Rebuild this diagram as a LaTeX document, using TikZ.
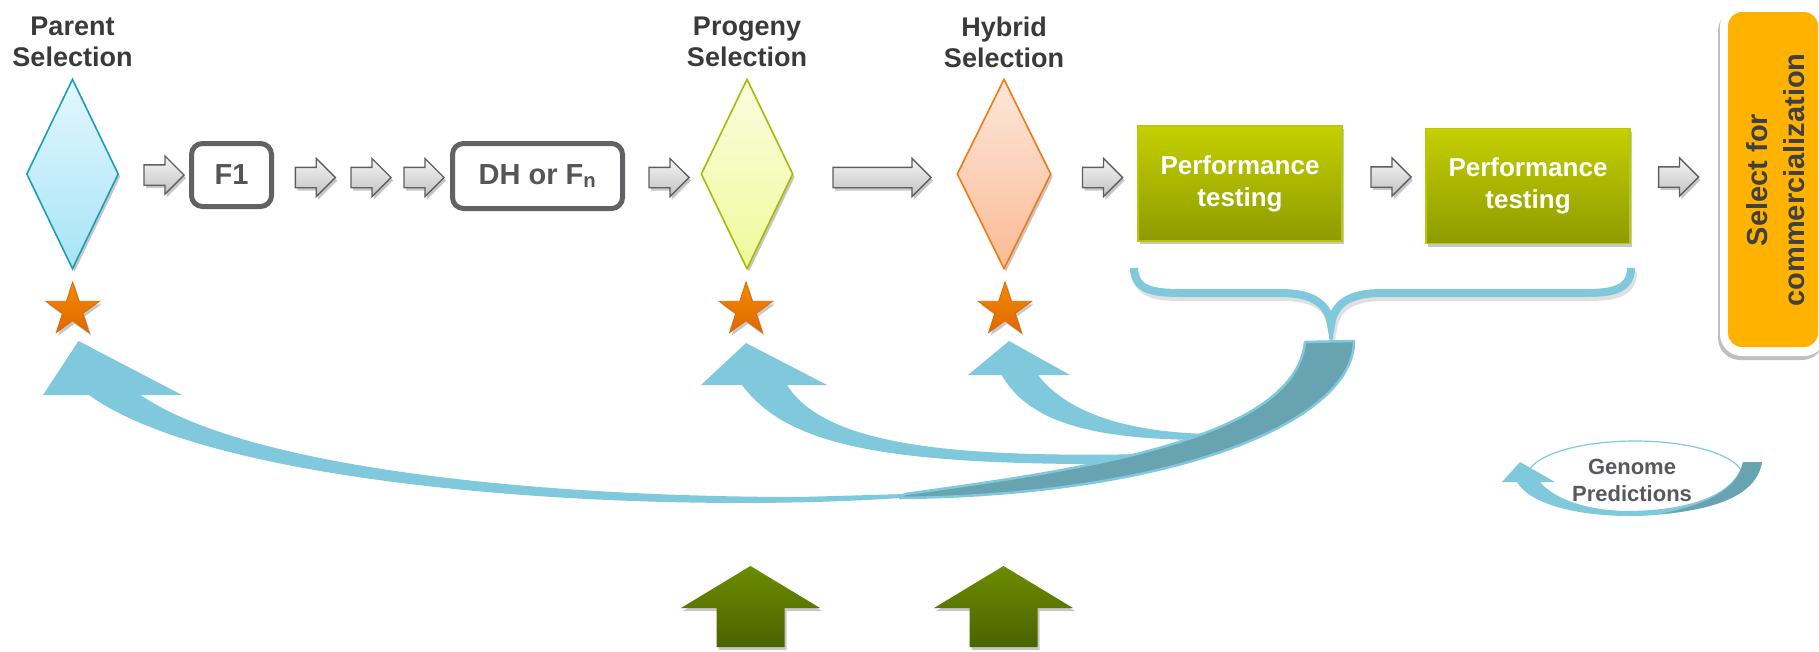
\documentclass[tikz,border=0pt]{standalone}
\usepackage{fontspec}
\setmainfont{Liberation Sans}
\usetikzlibrary{shapes.geometric,shapes.arrows,shadows}
\definecolor{lblue}{HTML}{80C8DC}
\definecolor{dblue}{HTML}{68A3B2}
\definecolor{lbltxt}{HTML}{3A3A3C}
\definecolor{boxgray}{HTML}{626266}
\definecolor{boxtxt}{HTML}{555558}
\definecolor{arrgray}{HTML}{5E5F62}
\definecolor{perftop}{HTML}{C4D000}
\definecolor{perfbot}{HTML}{8E9B00}
\definecolor{perfedge}{HTML}{B8C70A}
\definecolor{selorange}{HTML}{FFB300}
\definecolor{seltxt}{HTML}{404042}
\definecolor{gptxt}{HTML}{58595C}
\definecolor{greentop}{HTML}{6C8C00}
\definecolor{greenbot}{HTML}{4B6300}
\definecolor{startop}{HTML}{F28A00}
\definecolor{starbot}{HTML}{E06800}
\definecolor{ptop}{HTML}{E3F7FD}
\definecolor{pbot}{HTML}{A6E4F7}
\definecolor{pedge}{HTML}{1F9DB8}
\definecolor{gtop}{HTML}{FAFDDF}
\definecolor{gbot}{HTML}{EEFA9A}
\definecolor{gedge}{HTML}{A8BA06}
\definecolor{htop}{HTML}{FDE6DA}
\definecolor{hbot}{HTML}{FBBB95}
\definecolor{hedge}{HTML}{EE7A12}
\begin{document}
\begin{tikzpicture}[x=1pt,y=-1pt,
  shd/.style={drop shadow={shadow xshift=2pt,shadow yshift=-3pt,opacity=0.22,fill=black}},
  lbl/.style={font=\fontsize{27}{31}\selectfont\bfseries,text=lbltxt,align=center,inner sep=0pt},
  dia/.style={diamond,minimum width=92pt,minimum height=190pt,inner sep=0pt,line width=1.6pt,shd},
  gbox/.style={draw=boxgray,line width=5pt,rounded corners=11pt,inner sep=0pt,
    font=\fontsize{29}{33}\selectfont\bfseries,text=boxtxt},
  garrow/.style={single arrow,single arrow head extend=9pt,minimum height=40pt,
    inner xsep=0pt,inner ysep=9.5pt,draw=arrgray,line width=1.3pt,
    top color=white!96!black,bottom color=white!76!black,shd},
  perf/.style={rectangle,minimum width=204pt,minimum height=115pt,draw=perfedge,line width=1.5pt,
    top color=perftop,bottom color=perfbot,text=white,align=center,
    font=\fontsize{26}{32}\selectfont\bfseries,shd},
  starn/.style={star,star points=5,star point ratio=2.6,minimum size=56pt,inner sep=0pt,
    draw=starbot,line width=0.8pt,top color=startop,bottom color=starbot,shd},
  ribbon/.style={fill=lblue},
  greenarrow/.style={top color=greentop,bottom color=greenbot,shd}
]
\useasboundingbox (0,0) rectangle (1819,651);

% labels
\node[lbl] (lparent) at (72.5,42) {Parent\\Selection};
\node[lbl] (lprogeny) at (747,42) {Progeny\\Selection};
\node[lbl] (lhybrid) at (1004,42) {Hybrid\\Selection};

% diamonds
\node[dia,draw=pedge,top color=ptop,bottom color=pbot] (parent) at (72.5,174) {};
\node[dia,draw=gedge,top color=gtop,bottom color=gbot] (progeny) at (747,174) {};
\node[dia,draw=hedge,top color=htop,bottom color=hbot,minimum width=94pt] (hybrid) at (1004,174) {};

% boxes
\node[gbox,minimum width=80pt,minimum height=63pt] (f1) at (231.5,175) {F1};
\node[gbox,minimum width=170pt,minimum height=65pt] (dh) at (537.5,176) {DH or F\textsubscript{n}};

% performance boxes
\node[perf] (perf1) at (1240,183.5) {Performance\\testing};
\node[perf] (perf2) at (1528,186) {Performance\\testing};

% select box
\node[rectangle,rounded corners=22pt,fill=white,minimum width=106pt,minimum height=351pt,
  drop shadow={shadow xshift=-2pt,shadow yshift=-4pt,opacity=0.25,fill=black}] (selframe) at (1773,180.5) {};
\node[rectangle,rounded corners=14pt,fill=selorange,minimum width=90pt,minimum height=335pt] (selbox) at (1773,179.5) {};
\node[rotate=90,align=center,text=seltxt,font=\fontsize{29}{37}\selectfont\bfseries,inner sep=0pt] (seltext) at (1775.5,180) {Select for\\commercialization};

% grey block arrows
\node[garrow] (a1) at (159,175) {};
\node[garrow] (a2) at (310.3,177.5) {};
\node[garrow] (a3) at (366,177.5) {};
\node[garrow] (a4) at (419,177.5) {};
\node[garrow] (a5) at (664,177.5) {};
\node[garrow,minimum height=98pt] (a6) at (877,177.5) {};
\node[garrow] (a7) at (1097.5,177.5) {};
\node[garrow] (a8) at (1386,177) {};
\node[garrow] (a9) at (1673.5,177) {};

% stars
\node[starn] (s1) at (72.7,310) {};
\node[starn] (s2) at (746,310) {};
\node[starn] (s3) at (1005,310) {};

% brace
\draw[black,opacity=0.12,line width=8pt,shift={(2,4)}]
  (1134,268) .. controls (1134,293) and (1160,293) .. (1185,293) -- (1280,293)
  .. controls (1312,293) and (1328,303) .. (1331,325)
  .. controls (1334,303) and (1350,293) .. (1382,293) -- (1580,293)
  .. controls (1605,293) and (1631,293) .. (1631,268);
\draw[lblue,line width=8pt]
  (1134,268) .. controls (1134,293) and (1160,293) .. (1185,293) -- (1280,293)
  .. controls (1312,293) and (1328,303) .. (1331,325)
  .. controls (1334,303) and (1350,293) .. (1382,293) -- (1580,293)
  .. controls (1605,293) and (1631,293) .. (1631,268);

% curved feedback arrows
\fill[ribbon] (78.5,341) -- (182,395) -- (140.5,395)
  .. controls (250,470) and (550,497) .. (800,497)
  -- (905,494) .. controls (1080,470) and (1295,440) .. (1305,342)
  -- (1354,341) .. controls (1354,420) and (1180,495) .. (900,498)
  .. controls (650,515) and (220,490) .. (89,395)
  -- (43,395) -- cycle;
\fill[ribbon] (746,343) -- (827,385) -- (787,385)
  .. controls (825,445) and (950,458) .. (1150,454)
  -- (1150,464) .. controls (900,466) and (790,450) .. (742,385)
  -- (701,385) -- cycle;
\fill[ribbon] (1009,341) -- (1070,375) -- (1038,375)
  .. controls (1065,410) and (1120,432) .. (1210,434)
  -- (1210,440) .. controls (1100,440) and (1030,425) .. (1001.7,375)
  -- (968,375) -- cycle;
\filldraw[fill=dblue,draw=lblue,line width=2.5pt,line join=round]
  (1305,342) -- (1354,341) .. controls (1354,420) and (1180,495) .. (900,498)
  -- (905,494) .. controls (1080,470) and (1295,440) .. (1305,342) -- cycle;

% genome predictions
\node[ellipse,draw=lblue,line width=1.2pt,minimum width=216pt,minimum height=72pt,inner sep=0pt] (gp) at (1635,477) {};
\fill[ribbon] (1520,462) -- (1555,482) -- (1540,482)
  .. controls (1555,500) and (1590,511) .. (1630,511)
  .. controls (1690,510) and (1735,495) .. (1743,462)
  -- (1762,462) .. controls (1750,500) and (1690,516) .. (1630,516)
  .. controls (1580,516) and (1530,505) .. (1517,482)
  -- (1502,482) -- cycle;
\fill[dblue] (1743,462) -- (1762,462) .. controls (1757,495) and (1715,510) .. (1660,514)
  .. controls (1705,505) and (1738,490) .. (1743,462) -- cycle;
\node[align=center,text=gptxt,font=\fontsize{22}{27}\selectfont\bfseries,inner sep=0pt] (gptext) at (1632,480) {Genome\\Predictions};

% green arrows
\path[greenarrow] (750.5,566) -- (820,608) -- (784.5,608) -- (784.5,647) -- (716.5,647) -- (716.5,608) -- (681,608) -- cycle;
\path[greenarrow] (1003.5,566) -- (1073,608) -- (1037.5,608) -- (1037.5,647) -- (969.5,647) -- (969.5,608) -- (934,608) -- cycle;
\end{tikzpicture}
\end{document}
